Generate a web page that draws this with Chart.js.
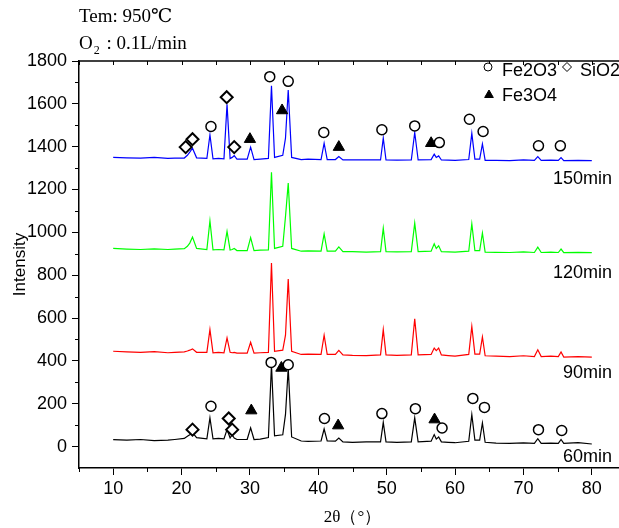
<!DOCTYPE html>
<html>
<head>
<meta charset="utf-8">
<script src="https://cdn.jsdelivr.net/npm/chart.js@4.4.0/dist/chart.umd.min.js"></script>
<style>
html, body { margin: 0; padding: 0; background: #fff; overflow: hidden; }
#wrap { width: 634px; height: 528px; }
</style>
</head>
<body>
<div id="wrap"><canvas id="xrd" width="634" height="528"></canvas></div>
<script>
// 2θ positions shared by the four scans
const twoTheta = [10, 12, 14, 16, 18, 19, 20.4, 20.85, 21.2, 21.6, 22.2, 23.7, 24.15, 24.6, 25.4,
  26.2, 26.65, 27.1, 27.4, 27.7, 28.1, 29.6, 30.1, 30.6, 31.5, 32.7, 33.15, 33.6, 34.8, 35.2, 35.6, 36.1,
  37.5, 38.5, 40.4, 40.85, 41.3, 42.5, 43.0, 43.6, 45, 47, 49.1, 49.5, 49.9, 51.5, 53.6, 54.1, 54.6,
  56.5, 56.95, 57.25, 57.6, 58.0, 59, 60, 62.0, 62.45, 62.9, 63.6, 64.0, 64.4, 66, 68, 70,
  71.6, 72.1, 72.6, 74, 75.1, 75.5, 75.9, 78, 80];

const scan60 = [32, 30, 33, 28, 30, 33, 38, 48, 55, 65, 42, 36, 134, 36, 38,
  36, 79, 40, 55, 40, 33, 34, 87, 33, 35, 42, 382, 50, 55, 150, 367, 45,
  26, 24, 26, 82, 26, 25, 40, 22, 20, 22, 22, 113, 22, 20, 22, 134, 22,
  25, 56, 35, 45, 22, 20, 18, 25, 149, 30, 30, 110, 20, 16, 15, 17,
  15, 37, 15, 16, 15, 33, 15, 18, 12];

const scan90 = [445, 442, 440, 443, 438, 440, 442, 446, 450, 456, 440, 440, 546, 438, 440,
  438, 507, 440, 438, 440, 436, 436, 487, 436, 438, 440, 857, 445, 450, 520, 782, 445,
  430, 432, 430, 520, 430, 430, 449, 428, 426, 425, 428, 546, 428, 426, 428, 597, 428,
  430, 460, 448, 460, 428, 425, 422, 430, 561, 432, 432, 512, 424, 422, 420, 424,
  420, 452, 420, 422, 420, 442, 418, 420, 418];

const scan120 = [925, 922, 920, 923, 920, 922, 924, 935, 950, 978, 925, 920, 1054, 918, 920,
  918, 1004, 918, 920, 925, 915, 915, 976, 915, 917, 918, 1281, 925, 935, 1074, 1230, 925,
  912, 914, 912, 993, 912, 912, 932, 910, 910, 908, 910, 1020, 910, 909, 910, 1043, 910,
  912, 947, 925, 937, 910, 909, 908, 912, 1040, 915, 915, 997, 908, 907, 906, 909,
  906, 931, 906, 908, 906, 922, 905, 907, 905];

const scan150 = [1350, 1348, 1347, 1350, 1345, 1347, 1347, 1360, 1375, 1393, 1348, 1345, 1455, 1343, 1345,
  1343, 1598, 1345, 1350, 1358, 1342, 1342, 1398, 1340, 1342, 1345, 1684, 1350, 1360, 1440, 1665, 1350,
  1340, 1342, 1340, 1416, 1340, 1340, 1354, 1338, 1339, 1338, 1338, 1440, 1338, 1337, 1338, 1466, 1338,
  1340, 1365, 1350, 1357, 1338, 1337, 1336, 1340, 1462, 1342, 1342, 1413, 1336, 1336, 1335, 1338,
  1336, 1354, 1336, 1337, 1336, 1349, 1335, 1336, 1335];

const scanNames = ['60min', '90min', '120min', '150min'];
const scanColors = ['#000000', '#ff0000', '#00ff00', '#0000ff'];

// phase markers (150min above, 60min below)
const fe2o3X = [24.3, 32.9, 35.6, 40.8, 49.3, 54.1, 57.7, 62.1, 64.1, 72.2, 75.4,
  24.3, 33.1, 35.6, 40.9, 49.3, 54.2, 58.1, 62.6, 64.3, 72.2, 75.6];
const fe2o3Y = [1494, 1727, 1705, 1466, 1479, 1497, 1419, 1528, 1471, 1404, 1404,
  188, 393, 382, 131, 154, 177, 87, 225, 183, 79, 75];
const sio2X = [20.6, 21.6, 26.6, 27.7, 21.6, 26.9, 27.4];
const sio2Y = [1398, 1435, 1631, 1398, 79, 131, 79];
const fe3o4X = [30.0, 34.7, 43.0, 56.5, 30.2, 34.6, 42.9, 57.0];
const fe3o4Y = [1435, 1569, 1398, 1416, 168, 367, 98, 126];

const xTickValues = [10, 20, 30, 40, 50, 60, 70, 80];
const yTickValues = [0, 200, 400, 600, 800, 1000, 1200, 1400, 1600, 1800];

const toPoints = (xs, ys) => xs.map((x, i) => ({ x: x, y: ys[i] }));

const scans = [scan60, scan90, scan120, scan150];
const lineSets = scans.map((s, i) => ({
  label: scanNames[i],
  data: toPoints(twoTheta, s),
  showLine: true,
  borderColor: scanColors[i],
  borderWidth: 1.2,
  pointRadius: 0,
  tension: 0,
  order: 2
}));

const markerSets = [
  { label: 'Fe2O3', data: toPoints(fe2o3X, fe2o3Y), pointStyle: 'circle', pointRadius: 5,
    pointBorderWidth: 1.5, pointBackgroundColor: '#fff', pointBorderColor: '#000', order: 0 },
  { label: 'SiO2', data: toPoints(sio2X, sio2Y), pointStyle: 'rectRot', pointRadius: 6,
    pointBorderWidth: 2, pointBackgroundColor: '#fff', pointBorderColor: '#000', order: 0 },
  { label: 'Fe3O4', data: toPoints(fe3o4X, fe3o4Y), pointStyle: 'triangle', pointRadius: 6.5,
    pointBorderWidth: 1, pointBackgroundColor: '#000', pointBorderColor: '#000', order: 0 }
];

const sans = 'Liberation Sans, Arial, sans-serif';
const serif = 'Liberation Serif, DejaVu Serif, serif';

// frame, minor ticks, legend, scan labels and the condition note
const extras = {
  id: 'extras',
  afterDraw(chart) {
    const ctx = chart.ctx, a = chart.chartArea, xs = chart.scales.x, ys = chart.scales.y;
    ctx.save();
    ctx.strokeStyle = '#000';
    ctx.lineWidth = 1.5;
    ctx.beginPath();
    ctx.moveTo(a.left, a.top);
    ctx.lineTo(a.right, a.top);
    ctx.stroke();

    ctx.lineWidth = 1;
    ctx.beginPath();
    for (let v = 5; v <= 85; v += 5) {
      const px = Math.round(xs.getPixelForValue(v)) + 0.5;
      ctx.moveTo(px, a.top);
      ctx.lineTo(px, a.top + 4);
      if (v % 10 !== 0) {
        ctx.moveTo(px, a.bottom);
        ctx.lineTo(px, a.bottom + 4);
      }
    }
    for (let v = 100; v <= 1700; v += 200) {
      const py = Math.round(ys.getPixelForValue(v)) + 0.5;
      ctx.moveTo(a.left - 4, py);
      ctx.lineTo(a.left, py);
    }
    ctx.stroke();

    // legend
    const H = Chart.helpers;
    ctx.fillStyle = '#fff';
    ctx.strokeStyle = '#000';
    H.drawPoint(ctx, { pointStyle: 'circle', radius: 4, borderWidth: 1.2 }, a.left + 409, a.top + 6);
    H.drawPoint(ctx, { pointStyle: 'rectRot', radius: 4.5, borderWidth: 1.8 }, a.left + 488, a.top + 6);
    ctx.fillStyle = '#000';
    H.drawPoint(ctx, { pointStyle: 'triangle', radius: 5, borderWidth: 1 }, a.left + 410, a.top + 34);
    ctx.font = '18px ' + sans;
    ctx.textBaseline = 'middle';
    ctx.textAlign = 'left';
    ctx.fillText('Fe2O3', a.left + 423, a.top + 10);
    ctx.fillText('SiO2', a.left + 501, a.top + 10);
    ctx.fillText('Fe3O4', a.left + 423, a.top + 35);

    // scan names
    ctx.textAlign = 'right';
    const labelY = [-47, 345, 811, 1250];
    scanNames.forEach((n, i) => ctx.fillText(n, 612, ys.getPixelForValue(labelY[i])));

    // condition note
    ctx.textAlign = 'left';
    ctx.font = '19px ' + serif;
    ctx.fillText('Tem: 950\u2103', 79, 17);
    ctx.fillText('O', 79, 44);
    const ow = ctx.measureText('O').width;
    ctx.font = '12px ' + serif;
    ctx.fillText('2', 79 + ow + 1, 51);
    ctx.font = '19px ' + serif;
    ctx.fillText(' : 0.1L/min', 79 + ow + 9, 44);
    ctx.restore();
  }
};

new Chart(document.getElementById('xrd'), {
  type: 'scatter',
  data: { datasets: markerSets.concat(lineSets) },
  options: {
    responsive: false,
    animation: false,
    layout: { padding: { left: 0, right: 0, top: 61, bottom: 0 } },
    plugins: { legend: { display: false }, tooltip: { enabled: false } },
    scales: {
      x: {
        type: 'linear', min: 5, max: 85,
        afterBuildTicks: s => { s.ticks = xTickValues.map(v => ({ value: v })); },
        afterFit: s => { s.height = 60; },
        grid: { drawOnChartArea: false, drawTicks: true, tickLength: 7, color: '#000', lineWidth: 1 },
        border: { color: '#000', width: 1.5 },
        ticks: { color: '#000', font: { family: sans, size: 18 }, padding: 3, maxRotation: 0, autoSkip: false },
        title: { display: true, text: '2\u03b8\uff08\u00b0\uff09', color: '#000',
          font: { family: serif, size: 17 }, padding: { top: 0, bottom: 0 } }
      },
      y: {
        type: 'linear', min: -100, max: 1800,
        afterBuildTicks: s => { s.ticks = yTickValues.map(v => ({ value: v })); },
        afterFit: s => { s.width = 79; },
        grid: { drawOnChartArea: false, drawTicks: true, tickLength: 7, color: '#000', lineWidth: 1 },
        border: { color: '#000', width: 1.5 },
        ticks: { color: '#000', font: { family: sans, size: 18 }, padding: 5, autoSkip: false,
          callback: v => String(v) },
        title: { display: true, text: 'Intensity', color: '#000',
          font: { family: sans, size: 17 }, padding: { top: 10, bottom: 0 } }
      }
    }
  },
  plugins: [extras]
});
</script>
</body>
</html>
